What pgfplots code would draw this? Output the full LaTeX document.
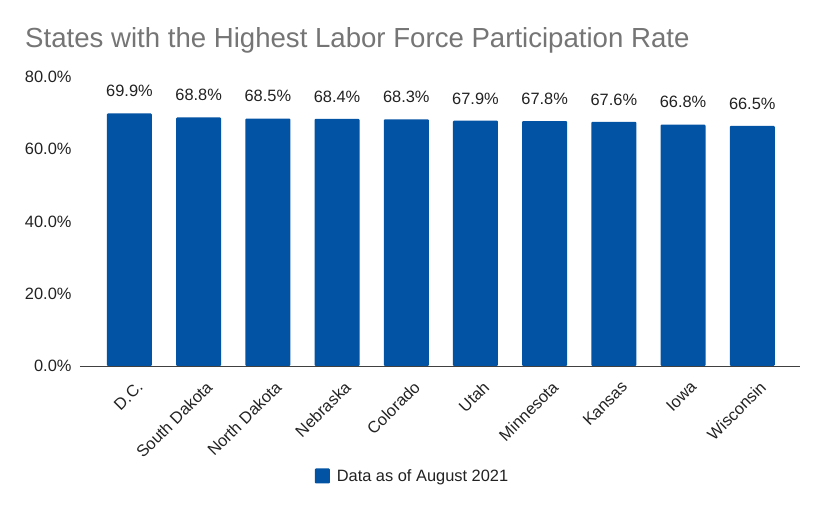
\documentclass[border=0pt]{standalone}
\usepackage{pgfplots}
\pgfplotsset{compat=1.18}
\usepackage{fontspec}
\setmainfont{Liberation Sans}
\definecolor{barblue}{RGB}{3,83,164}
\definecolor{titlegray}{RGB}{117,117,117}
\definecolor{txt}{RGB}{34,34,34}
\begin{document}
\begin{tikzpicture}[x=1pt,y=1pt]
\path[use as bounding box] (0,0) rectangle (825,510);
\node[anchor=base west,text=titlegray,font=\fontsize{27.6}{32}\selectfont,inner sep=0pt] at (25,462) {States with the Highest Labor Force Participation Rate};
\begin{axis}[
  at={(80pt,144pt)}, anchor=south west,
  scale only axis, width=720pt, height=289pt,
  xmin=-0.715, xmax=9.69, ymin=0, ymax=80,
  ybar, bar width=45pt,
  axis x line*=bottom, axis y line*=left,
  x axis line style={draw=black!75,line width=0.8pt,-},
  y axis line style={draw=none},
  major tick length=0pt,
  /pgf/number format/assume math mode=true,
  xtick=data,
  xticklabels={D.C.,South Dakota,North Dakota,Nebraska,Colorado,Utah,Minnesota,Kansas,Iowa,Wisconsin},
  xticklabel style={rotate=45,anchor=north east,font=\fontsize{16.4}{18}\selectfont,text=txt,xshift=-2pt,yshift=-11pt},
  ytick={0,20,40,60,80},
  yticklabels={0.0\%,20.0\%,40.0\%,60.0\%,80.0\%},
  yticklabel style={font=\fontsize{16.4}{18}\selectfont,text=txt,xshift=-5pt},
  nodes near coords={\pgfmathprintnumber[fixed,fixed zerofill,precision=1,assume math mode=true]{\pgfplotspointmeta}\%},
  nodes near coords style={font=\fontsize{16.4}{18}\selectfont,text=txt,yshift=13pt},
  legend style={at={(0.4618,-0.3806)},anchor=center,draw=none,font=\fontsize{16.4}{18}\selectfont,text=txt},
  legend image code/.code={\fill[barblue,rounded corners=1pt] (0pt,-7.5pt) rectangle (15pt,7.5pt);},
]
\addplot[fill=barblue,draw=none,rounded corners=1pt] coordinates {
(0,69.9) (1,68.8) (2,68.5) (3,68.4) (4,68.3) (5,67.9) (6,67.8) (7,67.6) (8,66.8) (9,66.5)};
\addlegendentry{\hspace{5pt}Data as of August 2021}
\end{axis}
\end{tikzpicture}
\end{document}
